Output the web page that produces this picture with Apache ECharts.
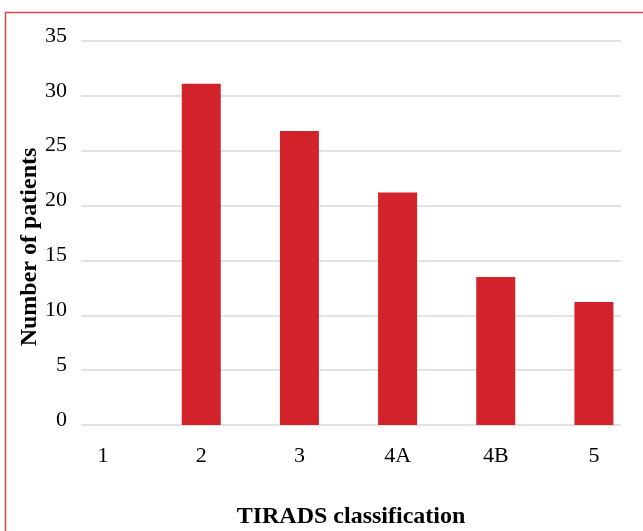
<!DOCTYPE html>
<html>
<head>
<meta charset="utf-8">
<script src="https://cdn.jsdelivr.net/npm/echarts@6/dist/echarts.min.js"></script>
<style>
html,body{margin:0;padding:0;background:#fff;}
#c{width:643px;height:531px;}
</style>
</head>
<body>
<div id="c"></div>
<script>
const categories = ['1', '2', '3', '4A', '4B', '5'];
const patients = [0, 31.1, 26.8, 21.2, 13.5, 11.2];
const yTicks = [0, 5, 10, 15, 20, 25, 30, 35];

const font = 'Liberation Serif, Times New Roman, serif';
const chart = echarts.init(document.getElementById('c'), null, {renderer: 'canvas'});
chart.setOption({
  animation: false,
  backgroundColor: '#fff',
  grid: [
    {left: 81, right: 22, top: 41, bottom: 106, containLabel: false, outerBoundsMode: 'none'},
    {left: 54, width: 589, top: 41, bottom: 106, containLabel: false, outerBoundsMode: 'none'}
  ],
  xAxis: [
    {
      gridIndex: 0, type: 'category', data: categories,
      axisLine: {show: false}, axisTick: {show: false}, axisLabel: {show: false},
      name: 'TIRADS classification', nameLocation: 'middle', nameGap: 80,
      nameTextStyle: {fontFamily: font, fontWeight: 'bold', fontSize: 24, color: '#000'}
    },
    {
      gridIndex: 1, type: 'category', data: categories,
      axisLine: {show: false}, axisTick: {show: false},
      axisLabel: {fontFamily: font, fontSize: 22, color: '#000', margin: 20}
    }
  ],
  yAxis: [
    {
      gridIndex: 0, type: 'value', min: yTicks[0], max: yTicks[yTicks.length - 1], interval: 5,
      axisLine: {show: false}, axisTick: {show: false},
      axisLabel: {fontFamily: font, fontSize: 22, color: '#000', margin: 14, verticalAlign: 'bottom', padding: [0,0,-6,0]},
      splitLine: {lineStyle: {color: '#d9d9d9', width: 1.5}}
    },
    {
      gridIndex: 1, type: 'value', min: yTicks[0], max: yTicks[yTicks.length - 1], interval: 5,
      show: false, splitLine: {show: false}
    }
  ],
  series: [
    {
      type: 'bar', xAxisIndex: 1, yAxisIndex: 1, data: patients,
      barWidth: 39, itemStyle: {color: '#d2232a'}
    }
  ],
  graphic: [
    {
      type: 'rect', silent: true, z: 100,
      shape: {x: 5.5, y: 12.5, width: 700, height: 600},
      style: {fill: 'none', stroke: '#e0474c', lineWidth: 1.5}
    },
    {
      type: 'text', x: 30, y: 247, rotation: Math.PI / 2,
      style: {text: 'Number of patients', font: 'bold 24px ' + font, fill: '#000', textAlign: 'center', textVerticalAlign: 'middle'}
    }
  ]
});
</script>
</body>
</html>
